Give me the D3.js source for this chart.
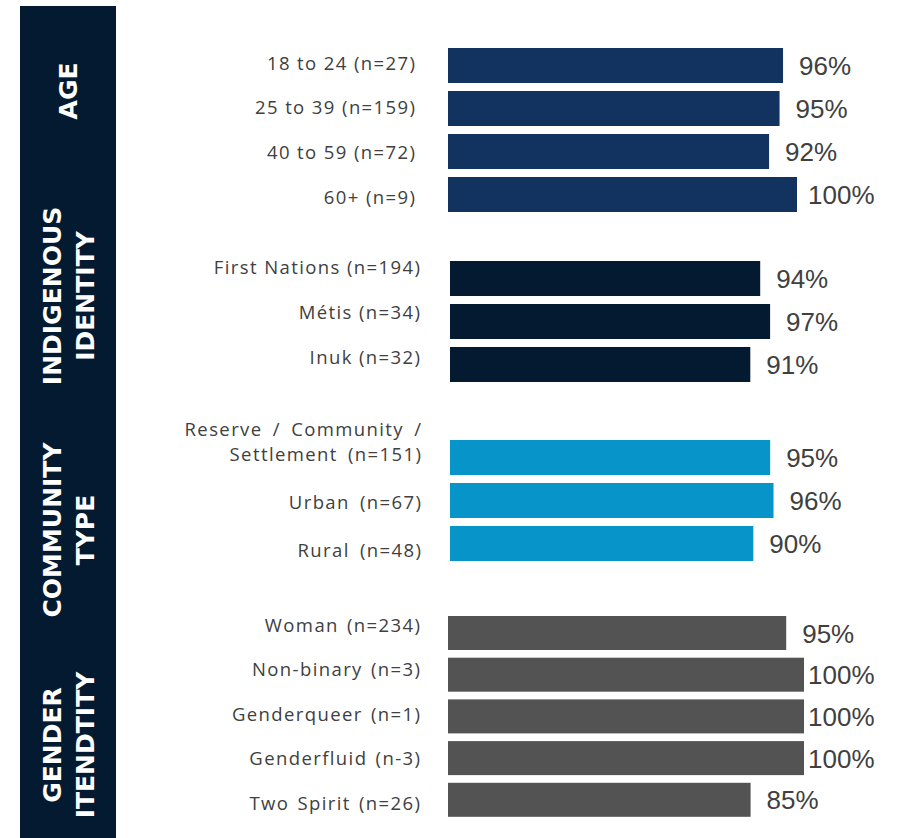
<!DOCTYPE html>
<html>
<head>
<meta charset="utf-8">
<script src="https://cdn.jsdelivr.net/npm/d3@7"></script>
<style>
  html, body { margin: 0; padding: 0; background: #ffffff; }
  svg { display: block; }
</style>
</head>
<body>
<script>
// ---- data ----
const sectionTitles = [["AGE"], ["INDIGENOUS", "IDENTITY"], ["COMMUNITY", "TYPE"], ["GENDER", "ITENDTITY"]];

const ageCategories = ["18 to 24 (n=27)", "25 to 39 (n=159)", "40 to 59 (n=72)", "60+ (n=9)"];
const ageValues = [96, 95, 92, 100];

const indigenousCategories = ["First Nations (n=194)", "Métis (n=34)", "Inuk (n=32)"];
const indigenousValues = [94, 97, 91];

const communityCategories = ["Reserve / Community /\nSettlement (n=151)", "Urban (n=67)", "Rural (n=48)"];
const communityValues = [95, 96, 90];

const genderCategories = ["Woman (n=234)", "Non-binary (n=3)", "Genderqueer (n=1)", "Genderfluid (n-3)", "Two Spirit (n=26)"];
const genderValues = [95, 100, 100, 100, 85];

// ---- layout ----
const W = 897, H = 838;
const svg = d3.select("body").append("svg").attr("width", W).attr("height", H);

const panels = [
  { cats: ageCategories, vals: ageValues, color: "#12325f",
    x0: 448, full: 349, top: 48, pitch: 43, bar: 35,
    labelRight: 415, labelFirst: 63, labelPitch: 44.7, wordGap: 0,
    title: sectionTitles[0], titleY: 91 },
  { cats: indigenousCategories, vals: indigenousValues, color: "#031a31",
    x0: 450, full: 330, top: 261, pitch: 43, bar: 35,
    labelRight: 420, labelFirst: 267, labelPitch: 45, wordGap: 0,
    title: sectionTitles[1], titleY: 296 },
  { cats: communityCategories, vals: communityValues, color: "#0794c8",
    x0: 450, full: 337, top: 440, pitch: 43, bar: 35,
    labelRight: 421, labelFirst: 454, labelPitch: 48, wordGap: 4,
    title: sectionTitles[2], titleY: 530 },
  { cats: genderCategories, vals: genderValues, color: "#535353",
    x0: 448, full: 356, top: 616, pitch: 41.7, bar: 34,
    labelRight: 420, labelFirst: 625, labelPitch: 44.5, wordGap: 2,
    title: sectionTitles[3], titleY: 745 }
];

// dark side band holding the section titles
svg.append("rect")
  .attr("x", 20).attr("y", 6)
  .attr("width", 96).attr("height", H - 6)
  .attr("fill", "#031a31");

const titleFont = "'DejaVu Sans', sans-serif";
const labelFont = "'Open Sans', 'Noto Sans', sans-serif";
const valueFont = "'Liberation Sans', Arial, sans-serif";
const valueMaxX = 808;
const labelSpacing = 1.4;

panels.forEach(p => {
  const n = p.cats.length;
  const gap = p.pitch - p.bar;
  const pad = gap / p.pitch;

  const x = d3.scaleLinear().domain([0, 100]).range([p.x0, p.x0 + p.full]);
  const y = d3.scaleBand()
    .domain(p.cats)
    .range([p.top - gap / 2, p.top - gap / 2 + n * p.pitch])
    .paddingInner(pad).paddingOuter(pad / 2);
  const yLabel = d3.scalePoint()
    .domain(p.cats)
    .range([p.labelFirst, p.labelFirst + (n - 1) * p.labelPitch]);

  const rows = p.cats.map((c, i) => ({ cat: c, val: p.vals[i] }));
  const g = svg.append("g");

  // bars
  g.selectAll("rect.bar").data(rows).enter().append("rect")
    .attr("class", "bar")
    .attr("x", x(0))
    .attr("y", d => y(d.cat))
    .attr("width", d => x(d.val) - x(0))
    .attr("height", y.bandwidth())
    .attr("fill", p.color);

  // value labels
  g.selectAll("text.val").data(rows).enter().append("text")
    .attr("class", "val")
    .attr("x", d => Math.min(x(d.val) + 16, valueMaxX))
    .attr("y", d => y(d.cat) + y.bandwidth() / 2 + 9.5)
    .attr("font-family", valueFont)
    .attr("font-size", 26)
    .attr("fill", "#404040")
    .text(d => d.val + "%");

  // category labels (last line sits on the label position)
  const lab = g.selectAll("text.cat").data(rows).enter().append("text")
    .attr("class", "cat")
    .attr("text-anchor", "end")
    .attr("font-family", labelFont)
    .attr("font-size", 18.5)
    .attr("letter-spacing", labelSpacing)
    .attr("word-spacing", p.wordGap)
    .attr("fill", "#404040");
  lab.each(function(d) {
    const lines = d.cat.split("\n");
    const t = d3.select(this);
    lines.forEach((ln, k) => {
      t.append("tspan")
        .attr("x", p.labelRight + labelSpacing)
        .attr("y", yLabel(d.cat) + 6.5 - (lines.length - 1 - k) * 25)
        .text(ln);
    });
  });

  // section title, rotated, in the side band
  const lineH = 33;
  const tt = svg.append("text")
    .attr("transform", `translate(68,${p.titleY}) rotate(-90)`)
    .attr("text-anchor", "middle")
    .attr("font-family", titleFont)
    .attr("font-weight", "bold")
    .attr("font-size", 25)
    .attr("fill", "#ffffff");
  p.title.forEach((ln, k) => {
    tt.append("tspan")
      .attr("x", 0)
      .attr("y", (k - (p.title.length - 1) / 2) * lineH + 9)
      .text(ln);
  });
});
</script>
</body>
</html>
